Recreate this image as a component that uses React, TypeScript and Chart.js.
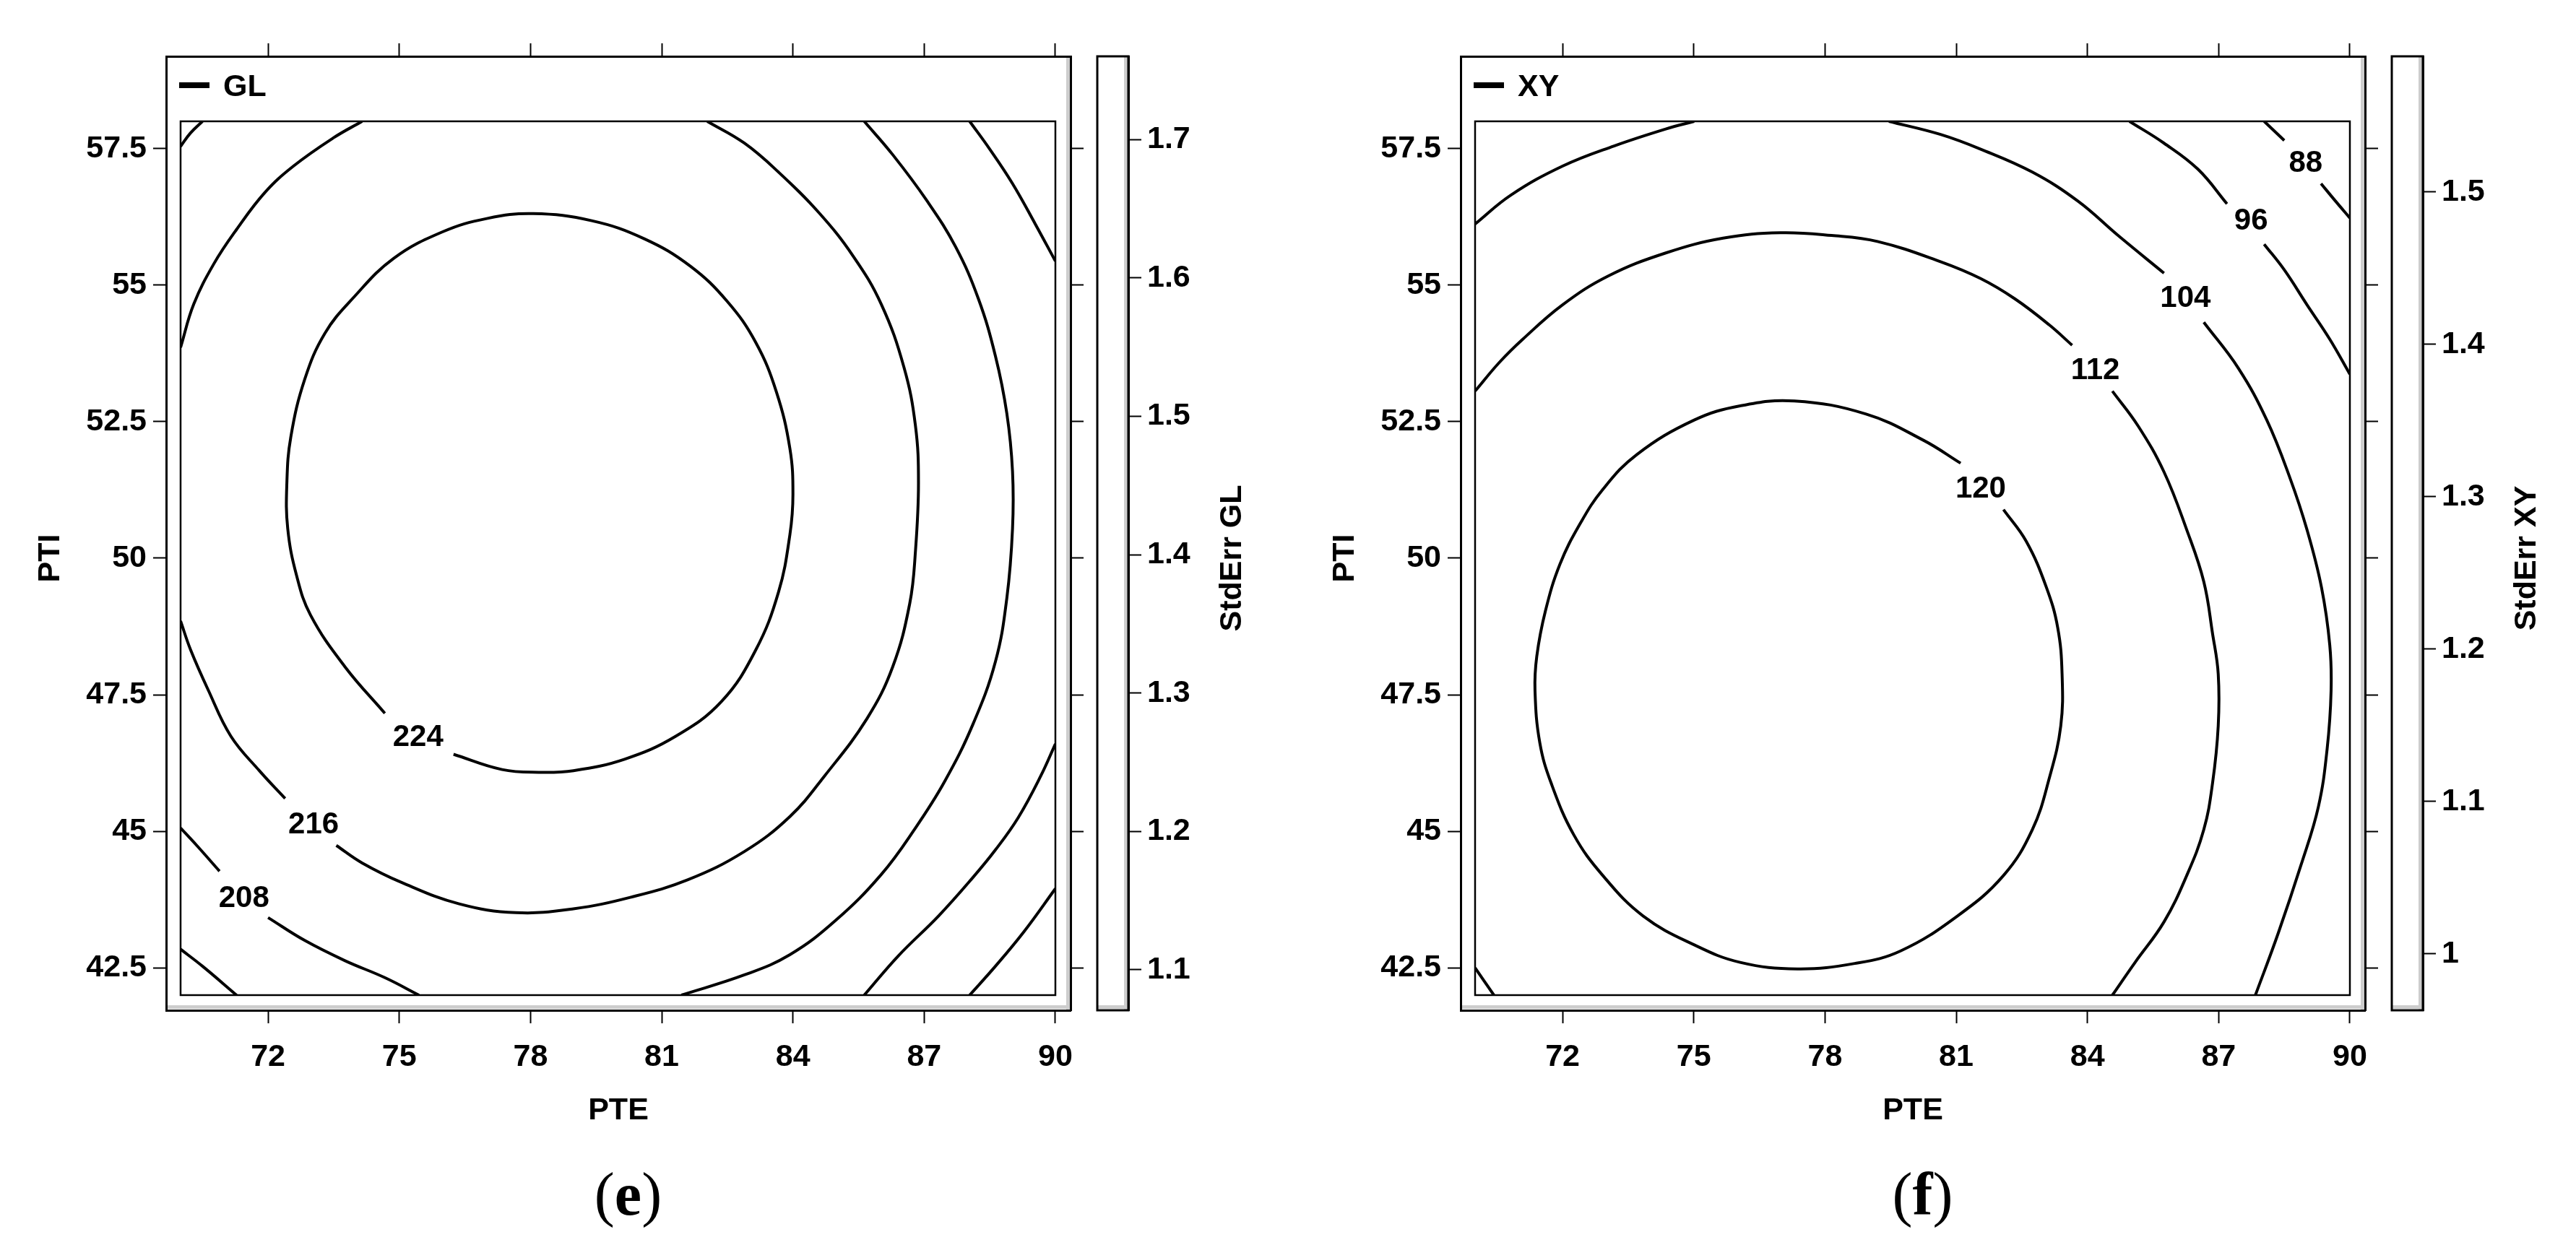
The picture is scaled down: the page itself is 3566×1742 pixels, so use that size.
import React, { useEffect, useRef } from 'react';
import { Chart, registerables } from 'chart.js';

Chart.register(...registerables);

// ---------------- data ----------------
const X_TICKS = [72, 75, 78, 81, 84, 87, 90];
const Y_TICKS = [42.5, 45, 47.5, 50, 52.5, 55, 57.5];
const X_DOMAIN = [70, 90];
const Y_DOMAIN = [42, 58];
const X_RANGE = [69.67, 90.347];
const Y_RANGE = [41.722, 59.19];

const GL_BAR_TICKS = [1.1, 1.2, 1.3, 1.4, 1.5, 1.6, 1.7];
const GL_BAR_RANGE = [1.0707, 1.7602];
const XY_BAR_TICKS = [1, 1.1, 1.2, 1.3, 1.4, 1.5];
const XY_BAR_RANGE = [0.963, 1.589];

// GL contour pieces (PTE, PTI)
const GL_224 = [[76.24,46.41],[77.35,46.13],[78.19,46.08],[78.98,46.11],[80.15,46.32],[81.32,46.74],[82.37,47.38],[83.15,48.32],[83.67,49.38],[83.93,50.43],[84.0,51.17],[83.93,52.01],[83.62,53.05],[83.15,53.95],[82.5,54.7],[81.65,55.35],[80.6,55.85],[79.4,56.18],[78.06,56.31],[77.0,56.22],[76.0,55.98],[74.87,55.49],[73.95,54.77],[73.3,54.12],[72.84,53.28],[72.52,52.22],[72.43,51.38],[72.45,50.54],[72.65,49.69],[72.97,48.96],[73.76,48.01],[74.67,47.16]];
const GL_216_A = [[70.0,53.86],[70.3,54.65],[70.76,55.39],[71.28,56.02],[71.93,56.7],[72.58,57.18],[73.5,57.7],[74.15,58.0]];
const GL_216_B = [[82.04,58.0],[82.89,57.6],[83.67,57.07],[84.59,56.33],[85.37,55.54],[86.02,54.65],[86.54,53.49],[86.8,52.43],[86.87,51.38],[86.8,50.12],[86.67,49.17],[86.28,48.01],[85.69,47.06],[84.72,46.01],[83.93,45.27],[82.89,44.63],[81.59,44.11],[80.28,43.79],[78.98,43.58],[77.67,43.51],[76.37,43.67],[75.06,44.06],[74.15,44.42],[73.56,44.74]];
const GL_216_C = [[72.39,45.6],[71.8,46.11],[71.15,46.74],[70.63,47.59],[70.23,48.32],[70.0,48.85]];
const GL_208_A = [[70.0,57.54],[70.22,57.78],[70.5,58.0]];
const GL_208_B = [[70.0,45.06],[70.37,44.74],[70.89,44.27]];
const GL_208_C = [[72.0,43.42],[72.84,43.0],[73.76,42.63],[74.67,42.32],[75.45,42.0]];
const GL_208_D = [[85.63,58.0],[86.28,57.39],[87.06,56.55],[87.72,55.7],[88.24,54.75],[88.63,53.7],[88.89,52.65],[89.02,51.59],[89.02,50.54],[88.89,49.27],[88.63,48.11],[88.11,46.95],[87.46,45.9],[86.8,45.06],[86.02,44.21],[84.98,43.37],[83.93,42.74],[82.89,42.37],[81.45,42.0]];
const GL_200_A = [[88.04,58.0],[88.5,57.49],[89.02,56.86],[89.54,56.12],[90.0,55.44]];
const GL_200_B = [[90.0,46.6],[89.67,46.02],[89.15,45.25],[88.63,44.66],[88.11,44.15],[87.33,43.45],[86.41,42.72],[85.63,42.0]];
const GL_200_C = [[70.0,42.84],[70.5,42.53],[71.28,42.0]];
const GL_192 = [[90.0,43.95],[89.28,43.16],[88.63,42.53],[88.04,42.0]];
const GL_LABELS = [
  { text: '224', x: 75.43, y: 46.72 },
  { text: '216', x: 73.04, y: 45.11 },
  { text: '208', x: 71.45, y: 43.77 },
];

// XY contour pieces
const XY_120 = [[82.08,50.89],[82.6,50.31],[83.06,49.47],[83.32,48.73],[83.42,47.88],[83.39,46.93],[83.13,45.98],[82.74,45.03],[82.08,44.19],[81.03,43.45],[79.73,42.81],[78.68,42.58],[77.37,42.48],[76.06,42.6],[75.01,42.92],[73.84,43.45],[72.92,44.19],[72.26,44.93],[71.74,45.88],[71.48,46.62],[71.37,47.57],[71.41,48.2],[71.61,49.04],[71.94,49.89],[72.4,50.63],[72.92,51.26],[73.7,51.9],[75.01,52.53],[76.06,52.79],[77.3,52.88],[78.94,52.64],[80.25,52.16],[81.1,51.74]];
const XY_112_A = [[70.0,53.06],[70.56,53.59],[71.09,54.01],[72.0,54.64],[73.05,55.17],[74.36,55.59],[75.67,55.86],[76.98,55.96],[78.15,55.91],[79.2,55.8],[80.64,55.43],[81.56,55.12],[82.34,54.75],[83.13,54.27],[83.65,53.9]];
const XY_112_B = [[84.57,53.06],[85.16,52.42],[85.75,51.58],[86.27,50.52],[86.66,49.57],[86.86,48.62],[86.99,47.88],[86.99,46.93],[86.86,45.88],[86.66,45.03],[86.27,44.19],[85.75,43.34],[85.09,42.6],[84.57,42.0]];
const XY_112_C = [[70.0,42.5],[70.43,42.0]];
const XY_104_A = [[70.0,56.12],[70.82,56.65],[72.0,57.18],[73.18,57.55],[74.36,57.86],[75.01,58.0]];
const XY_104_B = [[79.46,58.0],[80.64,57.76],[81.56,57.49],[82.74,57.07],[83.78,56.54],[84.7,55.91],[85.75,55.22]];
const XY_104_C = [[86.66,54.32],[87.45,53.48],[88.1,52.53],[88.63,51.47],[89.02,50.52],[89.35,49.47],[89.54,48.41],[89.57,47.57],[89.48,46.51],[89.28,45.45],[88.89,44.4],[88.36,43.13],[87.84,42.0]];
const XY_96_A = [[84.96,58.0],[85.75,57.6],[86.53,57.12],[87.19,56.49]];
const XY_96_B = [[88.04,55.75],[88.5,55.28],[89.02,54.64],[89.54,54.01],[90.0,53.37]];
const XY_88_A = [[88.04,58.0],[88.5,57.65]];
const XY_88_B = [[89.34,56.86],[89.67,56.54],[90.0,56.23]];
const XY_LABELS = [
  { text: '120', x: 81.56, y: 51.26 },
  { text: '112', x: 84.18, y: 53.43 },
  { text: '104', x: 86.24, y: 54.75 },
  { text: '96', x: 87.74, y: 56.17 },
  { text: '88', x: 88.99, y: 57.23 },
];

const GL_PANEL = {
  name: 'GL',
  barTitle: 'StdErr GL',
  caption: 'e',
  lines: [GL_224, GL_216_A, GL_216_B, GL_216_C, GL_208_A, GL_208_B, GL_208_C, GL_208_D, GL_200_A, GL_200_B, GL_200_C, GL_192],
  labels: GL_LABELS,
  barTicks: GL_BAR_TICKS,
  barRange: GL_BAR_RANGE,
};
const XY_PANEL = {
  name: 'XY',
  barTitle: 'StdErr XY',
  caption: 'f',
  lines: [XY_120, XY_112_A, XY_112_B, XY_112_C, XY_104_A, XY_104_B, XY_104_C, XY_96_A, XY_96_B, XY_88_A, XY_88_B],
  labels: XY_LABELS,
  barTicks: XY_BAR_TICKS,
  barRange: XY_BAR_RANGE,
};

// ---------------- layout / style ----------------
const FONT = "'Liberation Sans', Arial, Helvetica, sans-serif";
const SERIF = "'Liberation Serif', 'Times New Roman', serif";
const CANVAS_H = 1742;
const AREA_LEFT = 230;
const AREA_TOP = 78;
const AREA_BOTTOM = 1399;
const AREA_RIGHT = 1482;
const RIGHT_GAP = 80;
const BAR_W = 43;
const TXT = 43;
const SHADOW = '#cdcdcd';

function tickList(values: number[]) {
  return (s: any) => {
    s.ticks = values.map((v) => ({ value: v }));
  };
}

function makeDecor(cfg: any) {
  return {
    id: 'decor',
    beforeDraw(chart: any) {
      const { ctx, chartArea: a, scales } = chart;
      const bar = scales.yBar;
      ctx.save();
      ctx.fillStyle = SHADOW;
      ctx.fillRect(a.right - 6, a.top, 5, a.bottom - a.top);
      ctx.fillRect(a.left, a.bottom - 7, a.right - a.left, 5);
      ctx.fillRect(bar.left - 6, a.top, 5, a.bottom - a.top);
      ctx.fillRect(bar.left - BAR_W, a.bottom - 7, BAR_W, 5);
      ctx.restore();
    },
    beforeDatasetsDraw(chart: any) {
      const { ctx, scales } = chart;
      const l = scales.x.getPixelForValue(X_DOMAIN[0]);
      const r = scales.x.getPixelForValue(X_DOMAIN[1]);
      const t = scales.y.getPixelForValue(Y_DOMAIN[1]);
      const b = scales.y.getPixelForValue(Y_DOMAIN[0]);
      ctx.save();
      ctx.beginPath();
      ctx.rect(l, t, r - l, b - t);
      ctx.clip();
    },
    afterDatasetsDraw(chart: any) {
      const { ctx, chartArea: a, scales } = chart;
      ctx.restore();
      const xs = scales.x;
      const ys = scales.y;
      const bar = scales.yBar;
      const l = xs.getPixelForValue(X_DOMAIN[0]);
      const r = xs.getPixelForValue(X_DOMAIN[1]);
      const t = ys.getPixelForValue(Y_DOMAIN[1]);
      const b = ys.getPixelForValue(Y_DOMAIN[0]);
      ctx.save();
      // inner plot box
      ctx.strokeStyle = '#000';
      ctx.lineWidth = 2.5;
      ctx.strokeRect(l, t, r - l, b - t);
      // colour bar box
      ctx.lineWidth = 3;
      ctx.strokeRect(bar.left - BAR_W, a.top, BAR_W, a.bottom - a.top);
      // contour labels
      ctx.fillStyle = '#000';
      ctx.font = `bold 42px ${FONT}`;
      ctx.textAlign = 'center';
      ctx.textBaseline = 'middle';
      cfg.labels.forEach((lb: any) => {
        ctx.fillText(lb.text, xs.getPixelForValue(lb.x), ys.getPixelForValue(lb.y));
      });
      // legend
      ctx.lineWidth = 8;
      ctx.lineCap = 'butt';
      ctx.beginPath();
      ctx.moveTo(a.left + 18, a.top + 40);
      ctx.lineTo(a.left + 60, a.top + 40);
      ctx.stroke();
      ctx.font = `bold ${TXT}px ${FONT}`;
      ctx.textAlign = 'left';
      ctx.fillText(cfg.name, a.left + 79, a.top + 43);
      // vertical titles
      const yMid = ys.getPixelForValue((Y_DOMAIN[0] + Y_DOMAIN[1]) / 2);
      ctx.textAlign = 'center';
      ctx.save();
      ctx.translate(70, yMid);
      ctx.rotate(-Math.PI / 2);
      ctx.fillText('PTI', 0, 0);
      ctx.restore();
      ctx.save();
      ctx.translate(bar.left + 144, yMid);
      ctx.rotate(-Math.PI / 2);
      ctx.fillText(cfg.barTitle, 0, 0);
      ctx.restore();
      // caption (e)/(f)
      const cx = (l + r) / 2 + 14;
      const base = 1682;
      const fs = 84;
      ctx.textBaseline = 'alphabetic';
      ctx.textAlign = 'left';
      ctx.font = `${fs}px ${SERIF}`;
      const wo = ctx.measureText('(').width;
      const wc = ctx.measureText(')').width;
      ctx.font = `bold ${fs}px ${SERIF}`;
      const wl = ctx.measureText(cfg.caption).width;
      let x0 = cx - (wo + wl + wc) / 2;
      ctx.font = `${fs}px ${SERIF}`;
      ctx.fillText('(', x0, base);
      x0 += wo;
      ctx.font = `bold ${fs}px ${SERIF}`;
      ctx.fillText(cfg.caption, x0, base);
      x0 += wl;
      ctx.font = `${fs}px ${SERIF}`;
      ctx.fillText(')', x0, base);
      ctx.restore();
    },
  };
}

function buildConfig(cfg: any, width: number): any {
  const tickFont = { family: FONT, size: TXT, weight: 'bold' as const };
  const grid = {
    display: true,
    drawOnChartArea: false,
    drawTicks: true,
    tickLength: 18,
    tickWidth: 2,
    tickColor: '#000',
    color: '#000',
  };
  const border = { display: true, color: '#000', width: 3 };
  return {
    type: 'scatter',
    data: {
      datasets: cfg.lines.map((seg: number[][]) => ({
        data: seg.map(([x, y]) => ({ x, y })),
        showLine: true,
        borderColor: '#000',
        borderWidth: 4,
        pointRadius: 0,
        pointHoverRadius: 0,
        tension: 0.4,
        fill: false,
      })),
    },
    options: {
      responsive: false,
      maintainAspectRatio: false,
      animation: false,
      devicePixelRatio: 1,
      events: [],
      layout: { padding: 0 },
      plugins: { legend: { display: false }, tooltip: { enabled: false }, title: { display: false } },
      scales: {
        x: {
          type: 'linear',
          position: 'bottom',
          min: X_RANGE[0],
          max: X_RANGE[1],
          bounds: 'data',
          afterBuildTicks: tickList(X_TICKS),
          afterFit: (s: any) => { s.height = CANVAS_H - AREA_BOTTOM; },
          grid,
          border,
          ticks: {
            color: '#000', font: tickFont, padding: 21, autoSkip: false, maxRotation: 0, minRotation: 0,
            callback: (v: any) => String(v),
          },
          title: {
            display: true, text: 'PTE', color: '#000', font: tickFont,
            padding: { top: 0, bottom: 178 },
          },
        },
        xTop: {
          type: 'linear',
          position: 'top',
          min: X_RANGE[0],
          max: X_RANGE[1],
          bounds: 'data',
          afterBuildTicks: tickList(X_TICKS),
          afterFit: (s: any) => { s.height = AREA_TOP; },
          grid,
          border,
          ticks: { display: false },
        },
        y: {
          type: 'linear',
          position: 'left',
          min: Y_RANGE[0],
          max: Y_RANGE[1],
          bounds: 'data',
          afterBuildTicks: tickList(Y_TICKS),
          afterFit: (s: any) => { s.width = AREA_LEFT; },
          grid,
          border,
          ticks: { color: '#000', font: tickFont, padding: 9, autoSkip: false, callback: (v: any) => String(v) },
        },
        yRight: {
          type: 'linear',
          position: 'right',
          weight: 0,
          min: Y_RANGE[0],
          max: Y_RANGE[1],
          bounds: 'data',
          afterBuildTicks: tickList(Y_TICKS),
          afterFit: (s: any) => { s.width = RIGHT_GAP; },
          grid,
          border,
          ticks: { display: false },
        },
        yBar: {
          type: 'linear',
          position: 'right',
          weight: 1,
          min: cfg.barRange[0],
          max: cfg.barRange[1],
          bounds: 'data',
          afterBuildTicks: tickList(cfg.barTicks),
          afterFit: (s: any) => { s.width = width - AREA_RIGHT - RIGHT_GAP; },
          grid,
          border,
          ticks: { color: '#000', font: tickFont, padding: 8, autoSkip: false, callback: (v: any) => String(v) },
        },
      },
    },
    plugins: [makeDecor(cfg)],
  };
}

function Panel({ cfg, left, width }: { cfg: any; left: number; width: number }) {
  const ref = useRef<HTMLCanvasElement | null>(null);
  useEffect(() => {
    if (!ref.current) return;
    const chart = new Chart(ref.current, buildConfig(cfg, width));
    return () => chart.destroy();
  }, [cfg, width]);
  return (
    <canvas
      ref={ref}
      width={width}
      height={CANVAS_H}
      style={{ position: 'absolute', left, top: 0, width, height: CANVAS_H }}
    />
  );
}

export default function App() {
  return (
    <div style={{ position: 'absolute', left: 0, top: 0, width: 3566, height: CANVAS_H, background: '#fff', overflow: 'hidden' }}>
      <Panel cfg={GL_PANEL} left={0} width={1792} />
      <Panel cfg={XY_PANEL} left={1792} width={1774} />
    </div>
  );
}
